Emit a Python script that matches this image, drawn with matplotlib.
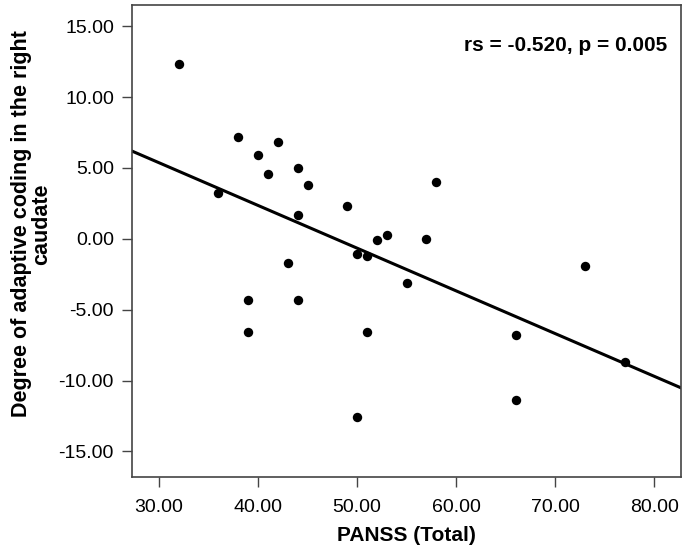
import numpy as np
import matplotlib
matplotlib.use('Agg')
import matplotlib.pyplot as plt

plt.rcParams['font.family'] = ['Liberation Sans', 'DejaVu Sans']

# PANSS total vs adaptive coding (right caudate)
panss = [32, 36, 38, 40, 41, 42, 44, 45, 44, 49, 58, 52, 53, 57, 50, 51,
         43, 55, 73, 39, 44, 39, 51, 66, 77, 66, 50]
coding = [12.3, 3.2, 7.2, 5.9, 4.6, 6.8, 5.0, 3.8, 1.7, 2.3, 4.0, -0.1, 0.3,
          0.0, -1.1, -1.2, -1.7, -3.1, -1.9, -4.3, -4.3, -6.6, -6.6, -6.8,
          -8.7, -11.4, -12.6]
xticks = [30, 40, 50, 60, 70, 80]
yticks = [15, 10, 5, 0, -5, -10, -15]
stat_text = 'rs = -0.520, p = 0.005'

fig = plt.figure(figsize=(6.85, 5.52), dpi=100)
ax = fig.add_axes([0.1927, 0.136, 0.8015, 0.855])

ax.scatter(panss, coding, s=46, color='black', zorder=3, linewidths=0)

xlim = (27.27, 82.7)
slope, icpt = np.polyfit(panss, coding, 1)
xs = np.array(xlim)
ax.plot(xs, slope * xs + icpt, color='black', lw=2.2)

ax.set_xlim(*xlim)
ax.set_ylim(-16.8, 16.5)
ax.set_xticks(xticks)
ax.set_xticklabels([f'{v:.2f}' for v in xticks])
ax.set_yticks(yticks)
ax.set_yticklabels([f'{v:.2f}' for v in yticks])
ax.tick_params(labelsize=14, length=7, width=1, color='#444444', direction='out', pad=6)
ax.tick_params(axis='x', pad=9)

for s in ax.spines.values():
    s.set_color('#444444')
    s.set_linewidth(1.2)

ax.set_xlabel('PANSS (Total)', fontsize=15, fontweight='bold', labelpad=7)
ax.set_ylabel('Degree of adaptive coding in the right\ncaudate', fontsize=15.5,
              fontweight='bold', linespacing=0.95)
ax.yaxis.set_label_coords(-0.145, 0.536)

ax.text(0.975, 0.915, stat_text, transform=ax.transAxes, ha='right', va='center',
        fontsize=15, fontweight='bold')

fig.savefig('out.png', dpi=100)
